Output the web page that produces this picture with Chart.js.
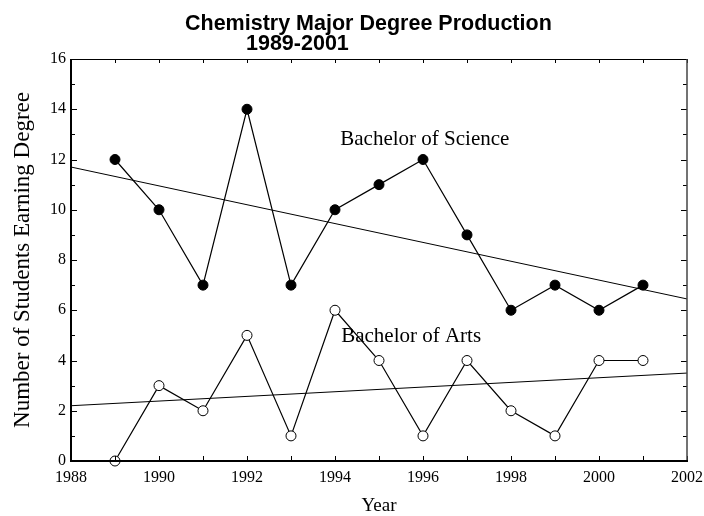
<!DOCTYPE html>
<html>
<head>
<meta charset="utf-8">
<script src="https://cdn.jsdelivr.net/npm/chart.js@4.4.1/dist/chart.umd.min.js"></script>
<style>
  html, body { margin: 0; padding: 0; background: #fff; }
  #wrap { width: 704px; height: 516px; }
</style>
</head>
<body>
<div id="wrap"><canvas id="chart" width="704" height="516"></canvas></div>
<script>
/* ===== DATA ===== */
const years = [1989, 1990, 1991, 1992, 1993, 1994, 1995, 1996, 1997, 1998, 1999, 2000, 2001];
const bsDegrees = [12, 10, 7, 14, 7, 10, 11, 12, 9, 6, 7, 6, 7];
const baDegrees = [0, 3, 2, 5, 1, 6, 4, 1, 4, 2, 1, 4, 4];
const trendYears = [1988, 2002];
const bsTrend = [11.7, 6.45];
const baTrend = [2.2, 3.5];
const titleLines = ['Chemistry Major Degree Production', '1989-2001'];
const seriesLabels = ['Bachelor of Science', 'Bachelor of Arts'];

const serif = '"Liberation Serif", "Times New Roman", serif';
const sans = '"Liberation Sans", Arial, sans-serif';

const toPoints = (xs, ys) => xs.map((x, i) => ({ x: x, y: ys[i] }));

// frame + inward ticks, title and in-plot labels
const decor = {
  id: 'decor',
  afterDraw(chart) {
    const ctx = chart.ctx;
    const a = chart.chartArea;
    const xs = chart.scales.x;
    const ys = chart.scales.y;
    ctx.save();
    ctx.strokeStyle = '#000';

    // ticks (inward, every year / every unit)
    ctx.lineWidth = 1;
    ctx.beginPath();
    for (let yr = 1988; yr <= 2002; yr++) {
      const px = Math.round(xs.getPixelForValue(yr)) + 0.5;
      ctx.moveTo(px, a.bottom); ctx.lineTo(px, a.bottom - 5);
      ctx.moveTo(px, a.top); ctx.lineTo(px, a.top + 4);
    }
    for (let v = 0; v <= 16; v++) {
      const py = Math.round(ys.getPixelForValue(v)) + 0.5;
      const len = v % 2 === 0 ? 6 : 4;
      ctx.moveTo(a.left, py); ctx.lineTo(a.left + len, py);
      ctx.moveTo(a.right, py); ctx.lineTo(a.right - len, py);
    }
    ctx.stroke();

    // frame
    ctx.lineWidth = 1;
    ctx.beginPath();
    ctx.moveTo(a.left, a.top + 0.5); ctx.lineTo(a.right, a.top + 0.5);
    ctx.stroke();
    ctx.lineWidth = 1.5;
    ctx.strokeStyle = '#444';
    ctx.beginPath();
    ctx.moveTo(a.right, a.top); ctx.lineTo(a.right, a.bottom);
    ctx.stroke();
    ctx.strokeStyle = '#000';
    ctx.lineWidth = 2;
    ctx.beginPath();
    ctx.moveTo(a.left, a.top); ctx.lineTo(a.left, a.bottom);
    ctx.lineTo(a.right + 1, a.bottom);
    ctx.stroke();

    // title
    ctx.fillStyle = '#000';
    ctx.font = 'bold 21.5px ' + sans;
    ctx.textAlign = 'left';
    ctx.textBaseline = 'alphabetic';
    ctx.fillText(titleLines[0], 185, 30);
    ctx.fillText(titleLines[1], 246, 50);

    // series labels
    ctx.font = '21px ' + serif;
    ctx.fillText(seriesLabels[0], xs.getPixelForValue(1994.12), ys.getPixelForValue(12.58));
    ctx.fillText(seriesLabels[1], xs.getPixelForValue(1994.14), ys.getPixelForValue(4.74));
    ctx.restore();
  }
};

new Chart(document.getElementById('chart'), {
  type: 'line',
  data: {
    datasets: [
      {
        label: seriesLabels[0],
        data: toPoints(years, bsDegrees),
        borderColor: '#000',
        borderWidth: 1.2,
        pointRadius: 5,
        pointBackgroundColor: '#000',
        pointBorderColor: '#000',
        pointBorderWidth: 1,
        clip: false
      },
      {
        label: seriesLabels[1],
        data: toPoints(years, baDegrees),
        borderColor: '#000',
        borderWidth: 1.2,
        pointRadius: 5,
        pointBackgroundColor: '#fff',
        pointBorderColor: '#000',
        pointBorderWidth: 1,
        clip: false
      },
      {
        label: 'BS trend',
        data: toPoints(trendYears, bsTrend),
        borderColor: '#000',
        borderWidth: 1,
        pointRadius: 0
      },
      {
        label: 'BA trend',
        data: toPoints(trendYears, baTrend),
        borderColor: '#000',
        borderWidth: 1,
        pointRadius: 0
      }
    ]
  },
  options: {
    responsive: false,
    animation: false,
    layout: { padding: { top: 59, right: 17, bottom: 0, left: 0 } },
    plugins: {
      legend: { display: false },
      tooltip: { enabled: false }
    },
    scales: {
      x: {
        type: 'linear',
        min: 1988,
        max: 2002,
        grid: { display: false, drawTicks: false },
        border: { display: false },
        ticks: {
          stepSize: 2,
          color: '#000',
          padding: 7,
          font: { family: serif, size: 16 },
          maxRotation: 0,
          callback: (v) => String(v)
        },
        title: {
          display: true,
          text: 'Year',
          color: '#000',
          padding: 0,
          font: { family: serif, size: 19, lineHeight: 1 }
        },
        afterFit: (s) => { s.height = 55; s.paddingLeft = 0; s.paddingRight = 0; }
      },
      y: {
        min: 0,
        max: 16,
        grid: { display: false, drawTicks: false },
        border: { display: false },
        ticks: {
          stepSize: 2,
          color: '#000',
          padding: 5,
          font: { family: serif, size: 16 }
        },
        title: {
          display: true,
          text: 'Number of Students Earning Degree',
          color: '#000',
          padding: { top: 9, bottom: 0 },
          font: { family: serif, size: 23 }
        },
        afterFit: (s) => { s.width = 71; s.paddingTop = 0; s.paddingBottom = 0; }
      }
    }
  },
  plugins: [decor]
});
</script>
</body>
</html>
